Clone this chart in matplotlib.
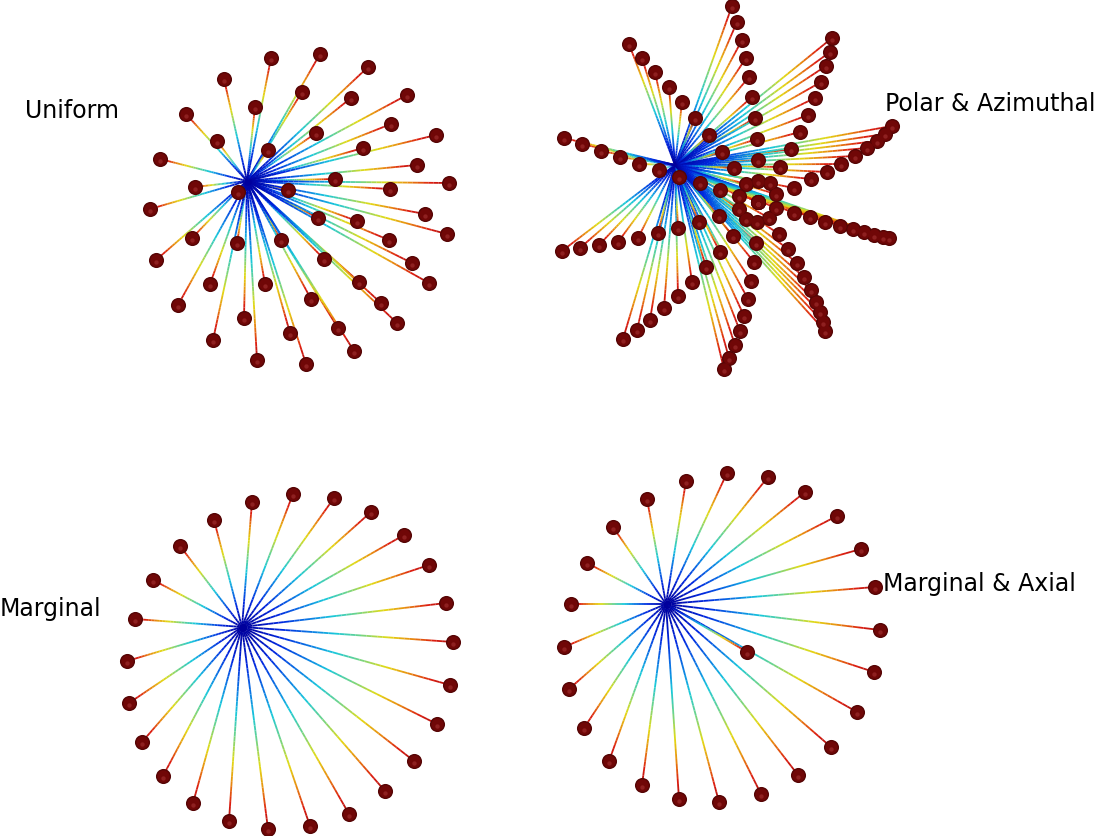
import numpy as np
import matplotlib
matplotlib.use('Agg')
import matplotlib.pyplot as plt
from matplotlib.collections import LineCollection
from matplotlib.colors import LinearSegmentedColormap

# endpoints, in image pixels
uniform_center = (247, 182)
uniform_x = [271, 320, 368, 224, 302, 255, 351, 407, 186, 391, 363, 436, 316, 217, 268, 160, 417, 335, 449, 390, 288, 195, 238, 150,
             425, 447, 318, 357, 389, 192, 156, 237, 281, 324, 412, 429, 210, 265, 359, 178, 311, 381, 397, 244, 338, 213, 290, 354, 257, 306]
uniform_y = [59, 55, 68, 80, 93, 108, 99, 96, 115, 125, 149, 136, 134, 142, 151, 160, 166, 180, 184, 190, 191, 188, 193, 210,
             215, 235, 219, 222, 241, 239, 261, 244, 241, 260, 264, 284, 285, 285, 283, 306, 300, 304, 324, 319, 329, 341, 334, 352, 361, 365]

polar_center = (675, 166)
blade_a_x = [732, 737, 742, 746, 749, 752, 755, 757, 758, 758, 758, 757, 756, 754, 751, 748, 744, 740, 735, 729, 724]
blade_a_y = [7, 23, 41, 59, 78, 98, 119, 140, 161, 182, 203, 223, 244, 263, 282, 300, 317, 332, 346, 359, 370]
blade_b_x = [832, 830, 826, 821, 815, 808, 800, 791, 780, 770, 758, 746, 733, 720, 706, 692, 678, 664, 650, 637, 623]
blade_b_y = [39, 53, 67, 83, 99, 116, 133, 150, 168, 184, 203, 220, 237, 253, 268, 283, 297, 309, 321, 331, 340]
blade_c_x = [892, 885, 877, 867, 855, 841, 827, 811, 794, 776, 758, 739, 719, 699, 678, 658, 638, 618, 599, 580, 562]
blade_c_y = [127, 135, 142, 149, 157, 165, 173, 180, 189, 195, 203, 210, 217, 223, 229, 234, 239, 243, 246, 249, 252]
blade_d_x = [889, 883, 874, 864, 853, 840, 825, 810, 794, 776, 758, 739, 720, 700, 679, 659, 639, 620, 601, 582, 564]
blade_d_y = [239, 238, 236, 233, 230, 227, 223, 218, 214, 209, 203, 197, 191, 184, 178, 171, 165, 158, 152, 145, 139]
blade_e_x = [825, 823, 820, 816, 811, 804, 797, 788, 779, 769, 758, 746, 734, 722, 709, 695, 682, 669, 655, 642, 629]
blade_e_y = [332, 323, 313, 303, 291, 278, 264, 250, 235, 219, 203, 185, 169, 153, 136, 119, 103, 88, 73, 59, 45]

marginal_center = (242, 628)
marginal_x = [252, 293, 334, 371, 404, 429, 446, 453, 450, 437, 414, 385, 349, 310, 268, 229, 193, 163, 142, 129, 127, 135, 153, 180, 214]
marginal_y = [503, 495, 499, 513, 536, 566, 604, 643, 686, 725, 762, 792, 815, 827, 830, 822, 804, 777, 743, 704, 662, 620, 581, 547, 521]

axial_center = (666, 605)
axial_x = [686, 727, 768, 805, 837, 861, 875, 880, 874, 857, 831, 798, 761, 719, 679, 642, 609, 584, 569, 564, 571, 587, 613, 647, 747]
axial_y = [482, 474, 478, 493, 517, 550, 588, 631, 673, 713, 748, 776, 795, 803, 800, 786, 762, 729, 690, 648, 605, 564, 528, 500, 653]

labels = ['Uniform', 'Polar & Azimuthal', 'Marginal', 'Marginal & Axial']
label_x = [25, 885, 0, 883]
label_y = [111, 104, 609, 584]

# jet-like ramp, a bit muted like the original render
ramp = LinearSegmentedColormap.from_list('ramp', [
    (0.0, '#00009c'), (0.18, '#0028e0'), (0.33, '#0c84e4'), (0.43, '#18c8dc'),
    (0.55, '#70d488'), (0.68, '#e4dc14'), (0.8, '#e88410'), (0.9, '#dc1c10'), (1.0, '#a01010')])


def draw_star(ax, center, xs, ys):
    t = np.linspace(0, 1, 40)
    segs = []
    vals = []
    for x, y in zip(xs, ys):
        px = center[0] + (x - center[0]) * t
        py = center[1] + (y - center[1]) * t
        pts = np.column_stack([px, py])
        segs.extend(np.stack([pts[:-1], pts[1:]], axis=1))
        vals.extend(t[:-1])
    lc = LineCollection(segs, cmap=ramp, linewidths=1.3, zorder=2, capstyle='butt')
    lc.set_array(np.array(vals))
    lc.set_clim(0, 1)
    ax.add_collection(lc)
    # shaded balls: dark rim, red body, faint highlight
    xs = np.array(xs, dtype=float)
    ys = np.array(ys, dtype=float)
    ax.scatter(xs, ys, s=118, c='#560505', linewidths=0, zorder=3)
    ax.scatter(xs, ys - 0.3, s=78, c='#700707', linewidths=0, zorder=4)
    ax.scatter(xs, ys + 2.4, s=10, c='#8e2020', linewidths=0, zorder=5)


fig = plt.figure(figsize=(10.95, 8.37), dpi=100)
ax = fig.add_axes([0, 0, 1, 1])

draw_star(ax, uniform_center, uniform_x, uniform_y)
for bx, by in [(blade_a_x, blade_a_y), (blade_b_x, blade_b_y), (blade_c_x, blade_c_y), (blade_d_x, blade_d_y), (blade_e_x, blade_e_y)]:
    draw_star(ax, polar_center, bx, by)
draw_star(ax, marginal_center, marginal_x, marginal_y)
draw_star(ax, axial_center, axial_x, axial_y)

for s, x, y in zip(labels, label_x, label_y):
    ax.text(x, y, s, fontsize=17, color='black', ha='left', va='center')

ax.set_xlim(0, 1095)
ax.set_ylim(837, 0)
ax.axis('off')
fig.savefig('out.png', dpi=100, facecolor='white')
